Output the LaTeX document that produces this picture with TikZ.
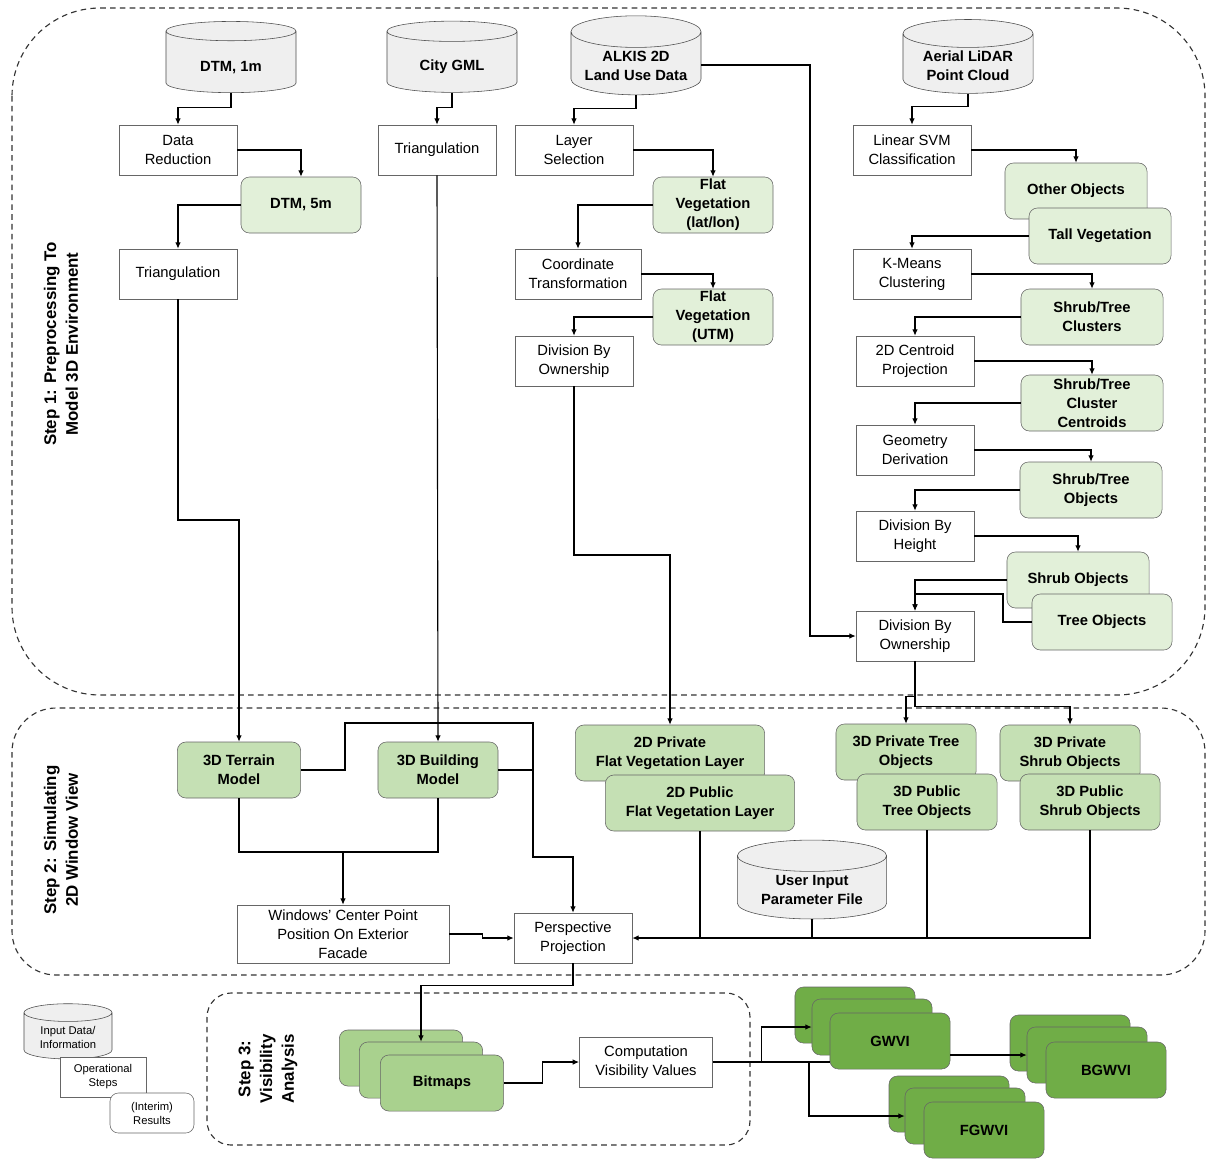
\documentclass[tikz,border=0pt]{standalone}
\usepackage{fontspec}
\setmainfont{Liberation Sans}
\usetikzlibrary{shapes.geometric, arrows.meta, positioning, calc}
\definecolor{palegreen}{HTML}{E2F0D9}
\definecolor{midgreen}{HTML}{C5E0B4}
\definecolor{bmpgreen}{HTML}{A9D18E}
\definecolor{darkgreen}{HTML}{70AD47}
\definecolor{dbgray}{HTML}{EFEFEF}
\tikzset{
	opstep/.style={rectangle, draw=black!60, fill=white, align=center, font=\fontsize{10.5}{13.5}\selectfont, minimum width=2.95cm, minimum height=1.25cm, inner sep=1pt},
	result/.style={rectangle, draw=black!60, fill=palegreen, rounded corners=6pt, align=center, font=\bfseries\fontsize{10.5}{13.5}\selectfont, minimum width=3cm, minimum height=1.4cm, inner sep=1pt},
	layer/.style={result, fill=midgreen},
	stack/.style={result, fill=darkgreen, minimum width=3cm},
	dbase/.style={cylinder, shape border rotate=90, aspect=0.3, draw=black!70, fill=dbgray, align=center, font=\bfseries\fontsize{10.5}{13.5}\selectfont, minimum width=3.25cm, minimum height=1.78cm, inner sep=1pt},
	oneline/.style={text height=13pt},
	twolines/.style={text height=22.5pt},
	region/.style={draw=black!80, line width=0.8pt, dash pattern=on 4pt off 3pt},
	steplabel/.style={rotate=90, align=center, font=\bfseries\fontsize{12}{15.5}\selectfont},
	conn/.style={line width=0.8pt},
	arr/.style={conn, -{Latex[length=1.6mm,width=1.4mm]}}
}

\begin{document}
\begin{tikzpicture}[x=0.025cm, y=-0.025cm]
	\useasboundingbox (0,0) rectangle (1207,1160);

	% dashed step regions
	\draw[region, rounded corners=2.2cm] (12,8) rectangle (1205,695);
	\draw[region, rounded corners=1.1cm] (12,708) rectangle (1205,975);
	\draw[region, rounded corners=0.6cm] (207,993) rectangle (750,1145);
	\node[steplabel] (lab1) at (61,344) {Step 1: Preprocessing To\\Model 3D Environment};
	\node[steplabel] (lab2) at (61,840) {Step 2: Simulating\\2D Window View};
	\node[steplabel] (lab3) at (268,1069) {Step 3:\\Visibility\\Analysis};

	% input data
	\node[dbase, oneline] (dtm1) at (231,63) {DTM, 1m};
	\node[dbase, oneline] (citygml) at (452,63) {City GML};
	\node[dbase, twolines] (alkis) at (636,65) {ALKIS 2D\\Land Use Data};
	\node[dbase, twolines] (lidar) at (968,65) {Aerial LiDAR\\Point Cloud};

	% terrain branch
	\node[opstep] (datared) at (178,150) {Data\\Reduction};
	\node[result] (dtm5) at (301,205) {DTM, 5m};
	\node[opstep] (tri1) at (178,274) {Triangulation};
	\node[opstep] (tricity) at (437,150) {Triangulation};

	% flat vegetation branch
	\node[opstep] (laysel) at (574,150) {Layer\\Selection};
	\node[result] (flatll) at (713,205) {Flat\\Vegetation\\(lat/lon)};
	\node[opstep, minimum width=3.15cm] (coordtr) at (578,274) {Coordinate\\Transformation};
	\node[result] (flatutm) at (713,317) {Flat\\Vegetation\\(UTM)};
	\node[opstep] (divownL) at (574,361) {Division By\\Ownership};

	% lidar branch
	\node[opstep] (svm) at (912,150) {Linear SVM\\Classification};
	\node[result, minimum width=3.55cm] (other) at (1076,191) {Other Objects};
	\node[result, minimum width=3.55cm] (tallveg) at (1100,236) {Tall Vegetation};
	\node[opstep] (kmeans) at (912,274) {K-Means\\Clustering};
	\node[result, minimum width=3.55cm] (clusters) at (1092,317) {Shrub/Tree\\Clusters};
	\node[opstep] (centproj) at (915,361) {2D Centroid\\Projection};
	\node[result, minimum width=3.55cm] (centroids) at (1092,403) {Shrub/Tree\\Cluster\\Centroids};
	\node[opstep] (geomder) at (915,450) {Geometry\\Derivation};
	\node[result, minimum width=3.55cm] (stobj) at (1091,490) {Shrub/Tree\\Objects};
	\node[opstep] (divheight) at (915,536) {Division By\\Height};
	\node[result, minimum width=3.55cm] (shrubobj) at (1078,580) {Shrub Objects};
	\node[result, minimum width=3.5cm] (treeobj) at (1102,622) {Tree Objects};
	\node[opstep] (divownR) at (915,636) {Division By\\Ownership};

	% step 2
	\node[layer, minimum width=3.08cm] (terrain) at (239,770) {3D Terrain\\Model};
	\node[layer] (building) at (438,770) {3D Building\\Model};
	\node[layer, minimum width=4.73cm] (privflat) at (670,753) {2D Private\\Flat Vegetation Layer};
	\node[layer, minimum width=4.73cm] (pubflat) at (700,803) {2D Public\\Flat Vegetation Layer};
	\node[layer, minimum width=3.5cm] (privtree) at (906,752) {3D Private Tree\\Objects};
	\node[layer, minimum width=3.5cm] (pubtree) at (927,802) {3D Public\\Tree Objects};
	\node[layer, minimum width=3.5cm] (privshrub) at (1070,753) {3D Private\\Shrub Objects};
	\node[layer, minimum width=3.5cm] (pubshrub) at (1090,802) {3D Public\\Shrub Objects};
	\node[dbase, twolines, minimum width=3.73cm, minimum height=1.93cm] (param) at (812,889) {User Input\\Parameter File};
	\node[opstep, minimum width=5.3cm, minimum height=1.45cm] (windows) at (343,934) {Windows' Center Point\\Position On Exterior\\Facade};
	\node[opstep] (persp) at (573,938) {Perspective\\Projection};

	% step 3
	\node[stack, fill=bmpgreen, minimum width=3.08cm] (bmpA) at (401,1058) {};
	\node[stack, fill=bmpgreen, minimum width=3.08cm] (bmpB) at (421,1070) {};
	\node[stack, fill=bmpgreen, minimum width=3.08cm] (bitmaps) at (442,1083) {Bitmaps};
	\node[opstep, minimum width=3.33cm] (compvis) at (646,1062) {Computation\\Visibility Values};
	\node[stack] (gwviA) at (855,1015) {};
	\node[stack] (gwviB) at (872,1027) {};
	\node[stack] (gwvi) at (890,1041) {GWVI};
	\node[stack] (bgwviA) at (1070,1043) {};
	\node[stack] (bgwviB) at (1087,1055) {};
	\node[stack] (bgwvi) at (1106,1070) {BGWVI};
	\node[stack] (fgwviA) at (949,1104) {};
	\node[stack] (fgwviB) at (965,1116) {};
	\node[stack] (fgwvi) at (984,1130) {FGWVI};

	% legend
	\node[dbase, font=\fontsize{8}{10}\selectfont, text height=16.5pt, minimum width=2.2cm, minimum height=1.38cm] (legdata) at (68,1037) {Input Data/\\Information};
	\node[opstep, font=\fontsize{8}{10}\selectfont, minimum width=2.15cm, minimum height=1cm] (legop) at (103,1077) {Operational\\Steps};
	\node[result, fill=white, font=\fontsize{8}{10}\selectfont, minimum width=2.1cm, minimum height=1cm] (legres) at (152,1113) {(Interim)\\Results};

	\coordinate (terrbend) at (178,520);
	\coordinate (alkisdrop) at (810,636);
	\coordinate (flatbend) at (574,555);
	\coordinate (treebend) at (1003,594);
	\coordinate (loopA) at (345,723);
	\coordinate (loopB) at (533,857);
	\coordinate (mergeA) at (343,852);
	\coordinate (fgbranch) at (809,1062);

	% step 1 connectors
	\draw[arr] (dtm1.south) -- ++(0,15) -| (datared.north);
	\draw[arr] (datared.east) -| (dtm5.north);
	\draw[arr] (dtm5.west) -| (tri1.north);
	\draw[arr] (tri1.south) -- (terrbend) -| (terrain.north);
	\draw[arr] (citygml.south) -- ++(0,15) -| (tricity.north);
	\draw[arr] (tricity.south) -- (building.north);
	\draw[arr] (alkis.south) -- ++(0,13) -| (laysel.north);
	\draw[arr] (alkis.east) -| (alkisdrop) -- (divownR.west);
	\draw[arr] (laysel.east) -| (flatll.north);
	\draw[arr] (flatll.west) -| (coordtr.north);
	\draw[arr] (coordtr.east) -| (flatutm.north);
	\draw[arr] (flatutm.west) -| (divownL.north);
	\draw[arr] (divownL.south) -- (flatbend) -| (privflat.north);
	\draw[arr] (lidar.south) -- ++(0,13) -| (svm.north);
	\draw[arr] (svm.east) -| (other.north);
	\draw[arr] (tallveg.west) -| (kmeans.north);
	\draw[arr] (kmeans.east) -| (clusters.north);
	\draw[arr] (clusters.west) -| (centproj.north);
	\draw[arr] (centproj.east) -| (centroids.north);
	\draw[arr] (centroids.west) -| (geomder.north);
	\draw[arr] (geomder.east) -| (stobj.north);
	\draw[arr] (stobj.west) -| (divheight.north);
	\draw[arr] (divheight.east) -| (shrubobj.north);
	\draw[arr] (shrubobj.west) -| (divownR.north);
	\draw[arr] (treeobj.west) -| (treebend) -| (divownR.north);
	\draw[arr] (divownR.south) -- ++(0,35) -| (privtree.north);
	\draw[arr] (divownR.south) -- ++(0,45) -| (privshrub.north);

	% step 2 connectors
	\draw[arr] (terrain.east) -| (loopA) -| (loopB) -| (persp.north);
	\draw[conn] (building.east) -- (building.east -| loopB);
	\draw[conn] (terrain.south) |- (mergeA) -| (building.south);
	\draw[arr] (mergeA) -- (windows.north);
	\draw[arr] (windows.east) -- ++(33,0) |- (persp.west);
	\draw[arr] (pubshrub.south) |- (persp.east);
	\draw[conn] (pubflat.south) -- (pubflat.south |- persp.east);
	\draw[conn] (param.south) -- (param.south |- persp.east);
	\draw[conn] (pubtree.south) -- (pubtree.south |- persp.east);

	% step 3 connectors
	\draw[arr] (persp.south) -- ++(0,22) -| (bmpB.north);
	\draw[arr] (bitmaps.east) -- ++(39,0) |- (compvis.west);
	\draw[conn] (compvis.east) -- (compvis.east -| gwvi.west);
	\draw[arr] (compvis.east) -- ++(49,0) |- (gwviB.west);
	\draw[arr] (fgbranch) |- (fgwviB.west);
	\draw[arr] (bgwviB.west -| gwvi.east) -- (bgwviB.west);
\end{tikzpicture}
\end{document}
